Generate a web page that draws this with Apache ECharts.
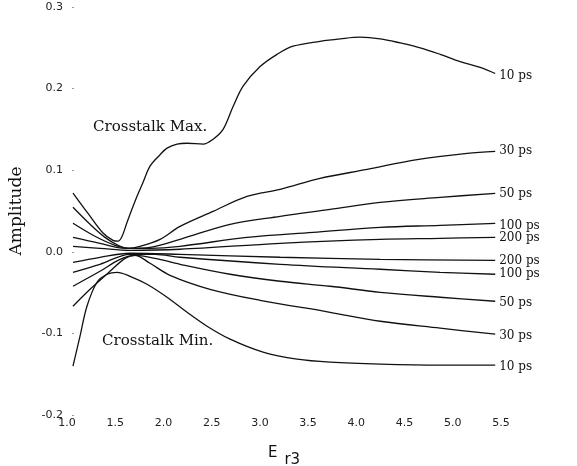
<!DOCTYPE html>
<html>
<head>
<meta charset="utf-8">
<script src="https://cdn.jsdelivr.net/npm/echarts@6/dist/echarts.min.js"></script>
<style>
  html, body { margin: 0; padding: 0; background: #fff; }
  #chart { width: 577px; height: 466px; }
</style>
</head>
<body>
<div id="chart"></div>
<script>
// Crosstalk amplitude versus the relative permittivity of layer 3 (Er3),
// one curve per rise time; upper family = crosstalk maximum, lower = minimum.

const xTicks = [1.0, 1.5, 2.0, 2.5, 3.0, 3.5, 4.0, 4.5, 5.0, 5.5];
const yTicks = [-0.2, -0.1, 0.0, 0.1, 0.2, 0.3];

const curveLabels = ['10 ps', '30 ps', '50 ps', '100 ps', '200 ps',
                     '200 ps', '100 ps', '50 ps', '30 ps', '10 ps'];

// Crosstalk maximum
const max10 = [[1.062,0.072],[1.218,0.047],[1.373,0.023],[1.477,0.014],[1.529,0.013],[1.571,0.019],[1.622,0.036],[1.726,0.068],[1.788,0.085],[1.861,0.105],[1.965,0.119],[2.037,0.127],[2.141,0.132],[2.245,0.133],[2.411,0.132],[2.515,0.138],[2.618,0.150],[2.722,0.178],[2.826,0.203],[3.002,0.227],[3.178,0.242],[3.344,0.252],[3.624,0.258],[3.832,0.261],[4.039,0.263],[4.247,0.261],[4.454,0.256],[4.662,0.250],[4.869,0.242],[5.077,0.233],[5.284,0.226],[5.44,0.2185]];
const max30 = [[1.062,0.0545],[1.239,0.0337],[1.394,0.0177],[1.529,0.008],[1.633,0.0043],[1.757,0.0067],[1.965,0.0153],[2.172,0.0312],[2.515,0.0496],[2.867,0.0679],[3.210,0.0765],[3.624,0.090],[4.112,0.101],[4.631,0.113],[5.149,0.1206],[5.44,0.123]];
const max50 = [[1.062,0.0349],[1.290,0.019],[1.498,0.008],[1.654,0.0043],[1.861,0.0055],[2.172,0.0153],[2.691,0.0337],[3.210,0.0435],[3.728,0.052],[4.247,0.0606],[4.869,0.0667],[5.44,0.0716]];
const max100 = [[1.062,0.0177],[1.342,0.0104],[1.602,0.0043],[1.861,0.0043],[2.172,0.0067],[2.867,0.0177],[3.552,0.0239],[4.247,0.030],[4.869,0.0324],[5.44,0.0349]];
const max200 = [[1.062,0.0067],[1.342,0.0043],[1.654,0.0018],[2.172,0.0031],[3.210,0.0104],[4.247,0.0153],[4.869,0.0165],[5.44,0.0177]];

// Crosstalk minimum
const min200 = [[1.062,-0.0129],[1.342,-0.0067],[1.654,-0.0018],[2.172,-0.0031],[3.210,-0.0067],[4.247,-0.0092],[5.44,-0.0104]];
const min100 = [[1.062,-0.0251],[1.342,-0.0153],[1.654,-0.0031],[1.913,-0.0031],[2.172,-0.0067],[3.210,-0.0153],[4.247,-0.0214],[4.869,-0.0251],[5.44,-0.0275]];
const min50 = [[1.062,-0.0422],[1.342,-0.0239],[1.550,-0.0092],[1.705,-0.0043],[1.913,-0.008],[2.172,-0.0153],[2.691,-0.0275],[3.210,-0.0361],[3.728,-0.0422],[4.247,-0.0496],[4.869,-0.0557],[5.44,-0.0606]];
const min30 = [[1.062,-0.0667],[1.239,-0.0459],[1.446,-0.0239],[1.602,-0.008],[1.705,-0.0043],[1.861,-0.0141],[2.068,-0.0288],[2.483,-0.0459],[3.002,-0.0594],[3.728,-0.0741],[4.247,-0.0851],[4.869,-0.0936],[5.44,-0.101]];
const min10 = [[1.062,-0.1401],[1.135,-0.1034],[1.207,-0.0667],[1.311,-0.0373],[1.415,-0.0275],[1.519,-0.0251],[1.654,-0.030],[1.830,-0.0398],[2.037,-0.0557],[2.245,-0.0741],[2.452,-0.0912],[2.691,-0.1071],[3.033,-0.123],[3.386,-0.1316],[3.728,-0.1353],[4.247,-0.1377],[4.869,-0.1389],[5.44,-0.1389]];

const curves = [max10, max30, max50, max100, max200, min200, min100, min50, min30, min10];
// vertical nudge of each end label, in pixels
const labelShift = [2, -1, 1, 3, 1, 1, 0, 2, 2, 2];

const ink = '#111';
const serif = 'DejaVu Serif';
const sans = 'DejaVu Sans';

const chart = echarts.init(document.getElementById('chart'));

const series = curves.map((pts, i) => ({
  type: 'line',
  name: curveLabels[i],
  data: pts,
  smooth: 0.35,
  showSymbol: false,
  symbol: 'none',
  silent: true,
  lineStyle: { color: ink, width: 1.3 },
  endLabel: {
    show: true,
    formatter: curveLabels[i],
    fontFamily: serif,
    fontSize: 12,
    color: ink,
    distance: 4,
    offset: [0, labelShift[i]]
  }
}));

chart.setOption({
  animation: false,
  backgroundColor: '#fff',
  grid: { left: 67, right: 76, top: 7, bottom: 51, containLabel: false, outerBoundsMode: 'none' },
  xAxis: {
    type: 'value',
    min: xTicks[0],
    max: xTicks[xTicks.length - 1],
    interval: 0.5,
    name: '{a|E}{b|r3}',
    nameLocation: 'middle',
    nameGap: 31,
    nameTextStyle: {
      rich: {
        a: { fontFamily: sans, fontSize: 15, color: ink, verticalAlign: 'top', lineHeight: 22 },
        b: { fontFamily: sans, fontSize: 15, color: ink, verticalAlign: 'bottom', lineHeight: 22, padding: [8, 0, 0, 7] }
      }
    },
    axisLine: { show: false },
    axisTick: { show: false },
    splitLine: { show: false },
    axisLabel: {
      margin: 3,
      fontFamily: sans,
      fontSize: 11,
      color: '#222',
      formatter: v => v.toFixed(1)
    }
  },
  yAxis: {
    type: 'value',
    min: yTicks[0],
    max: yTicks[yTicks.length - 1],
    interval: 0.1,
    offset: -5,
    name: 'Amplitude',
    nameLocation: 'middle',
    nameRotate: 90,
    nameGap: 47,
    nameTextStyle: { fontFamily: serif, fontSize: 17, color: ink },
    axisLine: { show: false },
    axisTick: { show: true, inside: true, length: 2, lineStyle: { color: '#999', width: 1 } },
    splitLine: { show: false },
    axisLabel: {
      margin: 9,
      fontFamily: sans,
      fontSize: 11,
      color: '#222',
      formatter: v => v.toFixed(1)
    }
  },
  graphic: [
    {
      type: 'text', left: 93, top: 120,
      style: { text: 'Crosstalk Max.', fontFamily: serif, fontSize: 15, fill: ink }
    },
    {
      type: 'text', left: 102, top: 334,
      style: { text: 'Crosstalk Min.', fontFamily: serif, fontSize: 15, fill: ink }
    }
  ],
  series: series
});
</script>
</body>
</html>
